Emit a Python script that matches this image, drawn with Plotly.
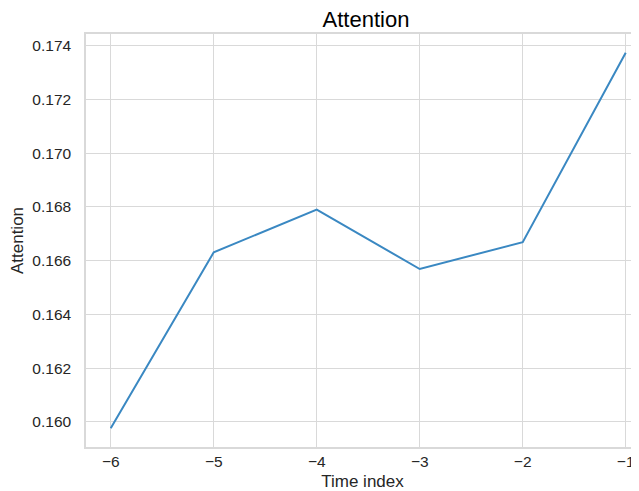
import plotly.graph_objects as go

time_index = [-6, -5, -4, -3, -2, -1]
attention = [0.15977, 0.16631, 0.16790, 0.16569, 0.16669, 0.17373]

x_tick_vals = [-6, -5, -4, -3, -2, -1]
x_tick_text = ["\u22126", "\u22125", "\u22124", "\u22123", "\u22122", "\u22121"]
y_tick_vals = [0.160, 0.162, 0.164, 0.166, 0.168, 0.170, 0.172, 0.174]
y_tick_text = ["0.160", "0.162", "0.164", "0.166", "0.168", "0.170", "0.172", "0.174"]

FONT = "Liberation Sans, Arial, sans-serif"
TXT = "#262626"
GRID = "#d9d9d9"

# the page body has an 8px margin, so the figure is sized/positioned to compensate
W, H = 631, 483

fig = go.Figure()
fig.add_trace(go.Scatter(
    x=time_index, y=attention, mode="lines",
    line=dict(color="#3a88c2", width=2),
    showlegend=False,
))

fig.update_layout(
    width=W, height=H, autosize=False,
    margin=dict(l=78, r=0, t=26, b=44),
    paper_bgcolor="white", plot_bgcolor="white",
    font=dict(family=FONT, color=TXT),
    title=dict(text="Attention", x=358 / W, xanchor="center",
               y=1 - 11 / H, yanchor="middle", yref="container",
               font=dict(size=22, color="#000000", family=FONT)),
)
fig.update_xaxes(
    range=[-6.24, -0.871],
    tickvals=x_tick_vals, ticktext=x_tick_text,
    tickfont=dict(size=15.5, color=TXT),
    showgrid=True, gridcolor=GRID, gridwidth=1,
    showline=True, linecolor=GRID, linewidth=1.5, mirror=True,
    zeroline=False, ticks="", ticklabelstandoff=0,
    automargin=False,
    title=dict(text="Time index", font=dict(size=17, color=TXT), standoff=8),
)
fig.update_yaxes(
    range=[0.15907, 0.17443],
    tickvals=y_tick_vals, ticktext=y_tick_text,
    tickfont=dict(size=15.5, color=TXT),
    showgrid=True, gridcolor=GRID, gridwidth=1,
    showline=True, linecolor=GRID, linewidth=1.5, mirror=False,
    zeroline=False, ticks="", ticklabelstandoff=10,
    automargin=False,
    title=dict(text="Attention", font=dict(size=17, color=TXT), standoff=8),
)

fig.write_html("out.html")
